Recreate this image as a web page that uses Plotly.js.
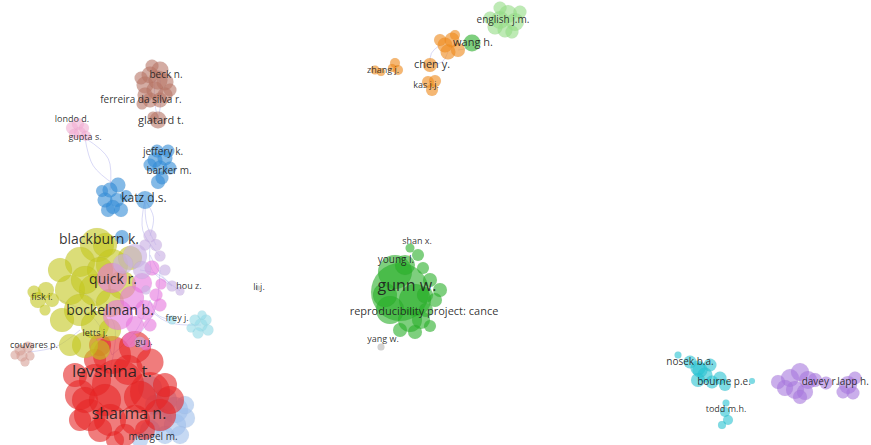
<!DOCTYPE html>
<html><head><meta charset="utf-8">
<script src="https://cdn.plot.ly/plotly-3.0.1.min.js"></script>
<style>html,body{margin:0;padding:0;background:#fff}#chart{width:871px;height:445px}</style>
</head><body><div id="chart"></div>
<script>
// nodes: [x, y, weight] in layout coordinates
const red = [[112,355,38],[135,347,32],[118,385,52],[150,392,40],[95,380,32],[80,395,30],[90,415,32],[110,420,32],[135,420,30],[160,415,32],[150,362,27],[75,375,24],[100,430,24],[125,435,22],[85,400,26],[140,397,32],[170,400,28],[105,400,32],[95,360,22],[165,385,24],[145,430,20],[80,420,22],[115,440,18],[128,370,30],[100,345,22]];
const lightBlue = [[150,388,24],[165,400,24],[175,410,26],[160,420,24],[175,425,22],[185,418,20],[150,430,20],[165,435,18],[140,440,16],[180,435,18],[155,405,20],[185,405,18]];
const yellow = [[97,245,34],[80,262,30],[112,265,32],[70,290,30],[95,290,32],[122,285,28],[80,310,32],[110,303,28],[62,320,24],[95,325,28],[85,345,26],[70,345,22],[110,330,22],[60,270,24],[130,258,24],[46,290,16],[38,300,16],[52,300,14],[34,292,13],[45,310,11],[100,270,26],[100,350,20],[85,280,28],[105,245,24]];
const pink = [[112,278,30],[132,298,24],[142,283,20],[118,315,30],[145,310,20],[152,268,15],[156,295,13],[135,325,18],[160,305,13],[130,340,15],[150,325,13],[146,345,11],[161,284,11]];
const lavender = [[150,236,13],[156,245,12],[145,245,11],[135,256,24],[123,264,20],[142,270,18],[165,270,11],[160,256,11],[146,290,9],[172,286,11],[180,291,9],[140,342,11]];
const blue = [[110,190,15],[118,185,15],[105,200,15],[117,200,14],[108,210,14],[121,210,14],[113,207,14],[126,196,12],[102,191,12],[145,200,18],[122,237,14],[155,160,15],[165,158,15],[160,168,15],[170,168,13],[150,165,13],[162,178,13],[157,151,13],[168,151,13],[158,182,14]];
const brown = [[150,75,17],[160,70,17],[145,85,17],[155,90,17],[165,82,17],[150,100,15],[160,100,15],[145,95,15],[170,90,13],[141,78,13],[158,80,19],[158,120,17],[153,117,11],[142,104,11],[165,95,15],[152,66,13]];
const lightPink = [[72,128,12],[78,124,12],[80,133,12],[84,128,10],[74,134,10],[86,136,10]];
const salmon = [[20,350,11],[28,347,11],[22,356,11],[30,356,9],[15,355,9],[25,362,9]];
const paleCyan = [[201,325,13],[206,320,11],[195,320,11],[208,330,11],[198,333,11],[191,328,9],[202,315,9],[172,320,9]];
const green = [[400,292,58],[395,272,34],[415,300,32],[390,310,28],[410,320,24],[421,320,18],[430,280,14],[435,300,14],[440,290,14],[426,310,14],[415,332,14],[400,330,14],[423,268,12],[418,255,12],[410,248,9],[430,326,12],[385,295,24],[425,295,16],[405,265,20],[472,43,17]];
const lightGreen = [[500,20,18],[508,14,18],[515,22,18],[505,30,15],[495,27,15],[520,12,13],[500,8,13],[512,32,13],[490,18,13]];
const orange = [[445,45,15],[452,40,15],[448,52,15],[458,50,14],[440,40,12],[455,35,10],[430,65,14],[428,82,12],[435,81,12],[432,90,12],[375,70,9],[381,72,8],[395,63,10],[398,70,10],[392,68,8]];
const cyan = [[678,355,7],[690,362,13],[698,368,15],[705,375,15],[710,365,13],[698,380,14],[712,382,13],[720,378,13],[700,370,15],[725,385,12],[752,381,6],[725,412,10],[728,420,10],[722,425,8],[726,403,7]];
const purple = [[790,378,18],[800,372,18],[808,380,18],[795,390,18],[785,388,16],[805,392,16],[778,382,14],[815,380,14],[800,397,14],[826,383,13],[848,385,18],[855,378,13],[853,393,13],[843,392,13]];
const gray = [[381,347,7],[258,288,5]];

const labelText = ["english j.m.","wang h.","chen y.","zhang j.","kas j.j.","beck n.","ferreira da silva r.","glatard t.","londo d.","gupta s.","jeffery k.","barker m.","katz d.s.","blackburn k.","quick r.","fisk i.","bockelman b.","hou z.","li j.","frey j.","letts j.","gu j.","couvares p.","levshina t.","sharma n.","mengel m.","shan x.","young l.","gunn w.","reproducibility project: cance","yang w.","nosek b.a.","bourne p.e.","todd m.h.","davey r.","lapp h."];
const labelX = [503,473,432,383,426,166,141,161,72,85,163,169,144,99,113,42,110,189,259,177,95,144,34,112,129,153,417,396,407,424,383,690,724,726,820,853];
const labelY = [20,43,65,71,86,75,100,121,120,138,152,171,199,240,280,298,311,287,288,319,334,343,346,373,415,437,242,260,287,312,340,362,382,410,382,382];
const labelSize = [10,11,11,9,9,10,10,11,9,9,10,10,12,14,14,9,14,9,9,9,9,9,9,17,16,10,9,10,16,11,9,10,10,9,10,10];

// edges: [x1,y1,x2,y2,bend]
const edges = [[85,138,110,190,-12],[85,138,115,185,8],[145,200,150,236,-6],[145,200,156,245,4],[145,200,160,256,10],[150,245,172,286,10],[150,255,180,291,4],[140,270,172,286,-4],[150,300,172,320,6],[140,300,201,325,10],[112,355,150,300,6],[130,345,160,270,10],[155,80,158,120,2],[160,80,158,120,-2],[440,45,430,65,4],[448,52,432,65,-4],[458,50,472,43,2],[80,290,110,370,-20],[60,300,112,355,-12],[28,352,80,330,6]];

const clusters = [
 [lightBlue,'rgba(160,192,236,0.85)'],[red,'rgba(232,36,36,0.85)'],[yellow,'rgba(196,200,30,0.85)'],[pink,'rgba(232,118,222,0.85)'],[lavender,'rgba(200,175,228,0.88)'],[blue,'rgba(50,140,215,0.85)'],[brown,'rgba(185,118,102,0.85)'],[lightPink,'rgba(242,175,212,0.88)'],[salmon,'rgba(215,160,150,0.85)'],[paleCyan,'rgba(150,220,232,0.88)'],[green,'rgba(40,175,40,0.85)'],[lightGreen,'rgba(150,222,135,0.88)'],[orange,'rgba(240,140,30,0.88)'],[cyan,'rgba(40,195,210,0.85)'],[purple,'rgba(168,120,222,0.85)'],[gray,'rgba(185,185,185,0.9)']
];

const traces = [];
edges.forEach(e => {
  const mx = (e[0]+e[2])/2, my = (e[1]+e[3])/2;
  const dx = e[2]-e[0], dy = e[3]-e[1], L = Math.hypot(dx,dy)||1;
  traces.push({type:'scatter',mode:'lines',x:[e[0],mx+(-dy/L)*e[4],e[2]],y:[e[1],my+(dx/L)*e[4],e[3]],
    line:{shape:'spline',width:1,color:'rgba(170,170,235,0.45)'},hoverinfo:'skip',showlegend:false});
});
clusters.forEach(c => {
  const nodes = c[0];
  traces.push({type:'scatter',mode:'markers',x:nodes.map(n=>n[0]),y:nodes.map(n=>n[1]),
    marker:{size:nodes.map(n=>n[2]),color:c[1],line:{width:0.5,color:'rgba(0,0,0,0.06)'}},
    hoverinfo:'skip',showlegend:false});
});
traces.push({type:'scatter',mode:'text',x:labelX,y:labelY,text:labelText,
  textfont:{family:'Open Sans, sans-serif',size:labelSize,color:'rgba(30,30,30,0.92)'},
  textposition:'middle center',hoverinfo:'skip',showlegend:false,cliponaxis:false});

const layout = {
  width:871,height:445,margin:{l:0,r:0,t:0,b:0},paper_bgcolor:'#fff',plot_bgcolor:'#fff',
  xaxis:{range:[0,871],visible:false,fixedrange:true},
  yaxis:{range:[445,0],visible:false,fixedrange:true},
  showlegend:false
};
Plotly.newPlot('chart',traces,layout,{staticPlot:true,displayModeBar:false});
</script></body></html>
